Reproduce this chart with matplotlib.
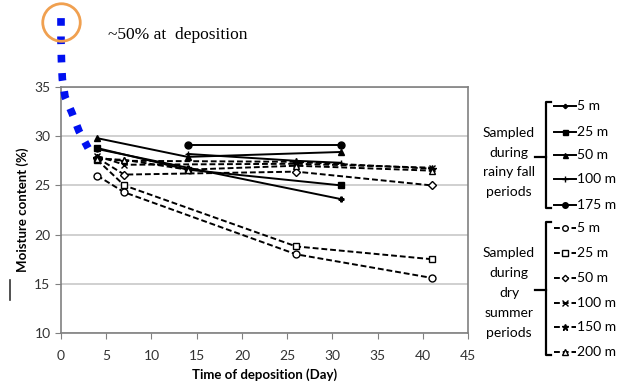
import numpy as np
import matplotlib.pyplot as plt
from matplotlib.lines import Line2D

# rainy fall sampling (solid lines)
rainy_labels = ['5 m', '25 m', '50 m', '100 m', '175 m']
rainy_days = [[4, 14, 31], [4, 14, 31], [4, 14, 31], [14, 26, 31], [14, 31]]
rainy_moist = [[28.7, 26.8, 23.6], [28.8, 26.6, 25.0], [29.8, 27.9, 28.4],
               [28.2, 27.5, 27.3], [29.1, 29.1]]
rainy_marks = [dict(marker='P', ms=3.5, mfc='k'), dict(marker='s', ms=4.5, mfc='k'),
               dict(marker='^', ms=4.5, mfc='k'), dict(marker='+', ms=5, mfc='k'),
               dict(marker='o', ms=5, mfc='k')]

# dry summer sampling (dashed lines)
dry_labels = ['5 m', '25 m', '50 m', '100 m', '150 m', '200 m']
dry_days = [[4, 7, 26, 41], [4, 7, 26, 41], [4, 7, 26, 41],
            [4, 7, 26, 41], [4, 7, 26, 41], [4, 7, 14, 26, 41]]
dry_moist = [[26.0, 24.3, 18.0, 15.6], [27.6, 25.0, 18.8, 17.5], [27.8, 26.1, 26.4, 25.0],
             [28.0, 27.1, 27.2, 26.8], [27.8, 27.5, 27.4, 26.7], [27.7, 27.6, 26.6, 27.0, 26.5]]
dry_marks = [dict(marker='o', ms=5, mfc='white'), dict(marker='s', ms=5, mfc='white'),
             dict(marker='D', ms=4, mfc='white'), dict(marker='x', ms=5, mfc='k'),
             dict(marker='*', ms=6, mfc='k'), dict(marker='^', ms=5, mfc='white')]

# initial moisture trend sketched from deposition (~50 % at day 0)
curve_x = [0.0, 0.0, 0.05, 0.15, 0.45, 1.2, 2.0, 3.0]
curve_y = [42.0, 39.6, 37.7, 35.8, 34.0, 32.4, 30.5, 28.8]

ui = ['Lato', 'DejaVu Sans']

fig = plt.figure(figsize=(6.25, 3.85), dpi=100)
ax = fig.add_axes([0.0976, 0.135, 0.6512, 0.639])

for d, m, mk in zip(rainy_days, rainy_moist, rainy_marks):
    ax.plot(d, m, '-', color='black', lw=1.4, mec='black', mew=1.0, **mk)
for d, m, mk in zip(dry_days, dry_moist, dry_marks):
    ax.plot(d, m, '--', color='black', lw=1.4, mec='black', mew=1.0, dashes=(3, 1.5), **mk)

ax.plot(curve_x, curve_y, color='#0010f0', lw=5.5, linestyle=(0, (1.0, 1.4)),
        dash_capstyle='butt', clip_on=False, zorder=5)
ax.plot([curve_x[0]], [41.6], 'o', ms=27, mfc='none', mec='#f0a050', mew=2,
        clip_on=False, zorder=6)

ax.set_xlim(0, 45)
ax.set_ylim(10, 35)
ax.set_xticks(np.arange(0, 46, 5))
ax.set_yticks(np.arange(10, 36, 5))
ax.yaxis.grid(True, color='#c8c8c8', lw=1.2)
ax.set_axisbelow(True)
for s in ax.spines.values():
    s.set_color('#808080')
    s.set_linewidth(1.2)
ax.tick_params(length=4, color='#808080', labelsize=10, labelcolor='#333333')
ax.tick_params(axis='x', pad=8)
for lab in ax.get_xticklabels() + ax.get_yticklabels():
    lab.set_family(ui)
ax.set_xlabel('Time of deposition (Day)', fontsize=9.5, fontweight='bold', family=ui, labelpad=5)
ax.set_ylabel('Moisture content (%)', fontsize=9.5, fontweight='bold', family=ui, labelpad=4)

fig.text(108 / 625, 1 - 35 / 385, '~50% at  deposition', family='Liberation Serif',
         fontsize=12.5, va='center', ha='left')

# small stray tick on the left margin
fig.add_artist(Line2D([10 / 625, 10 / 625], [1 - 280 / 385, 1 - 300 / 385],
                      color='#333333', lw=1.2))


def legend_group(title_lines, title_ys, labels, ys, top, bottom, mid, dashed, marks):
    px = lambda x: x / 625
    py = lambda y: 1 - y / 385
    # bracket
    fig.add_artist(Line2D([px(551), px(546), px(546), px(551)],
                          [py(top), py(top), py(bottom), py(bottom)], color='black', lw=1.6))
    fig.add_artist(Line2D([px(535), px(546)], [py(mid), py(mid)], color='black', lw=1.6))
    for t, y in zip(title_lines, title_ys):
        fig.text(px(509), py(y), t, family=ui, fontsize=10, ha='center', va='center')
    for lab, y, mk in zip(labels, ys, marks):
        ls = (0, (3, 1.5)) if dashed else '-'
        fig.add_artist(Line2D([px(554), px(576)], [py(y), py(y)], color='black', lw=1.4,
                              linestyle=ls))
        small = dict(mk, ms=mk['ms'] * 0.8)
        fig.add_artist(Line2D([px(565)], [py(y)], color='black', mec='black', mew=1.0,
                              linestyle='none', **small))
        fig.text(px(577), py(y), lab, family=ui, fontsize=10, ha='left', va='center')


legend_group(['Sampled', 'during', 'rainy fall', 'periods'], [133, 153, 172, 192],
             rainy_labels, [106, 132, 155, 179, 205], 102, 208, 157, False, rainy_marks)
legend_group(['Sampled', 'during', 'dry', 'summer', 'periods'], [253, 273, 293, 313, 333],
             dry_labels, [228, 253, 278, 303, 327, 352], 222, 355, 290, True, dry_marks)

fig.savefig('out.png', dpi=100)
